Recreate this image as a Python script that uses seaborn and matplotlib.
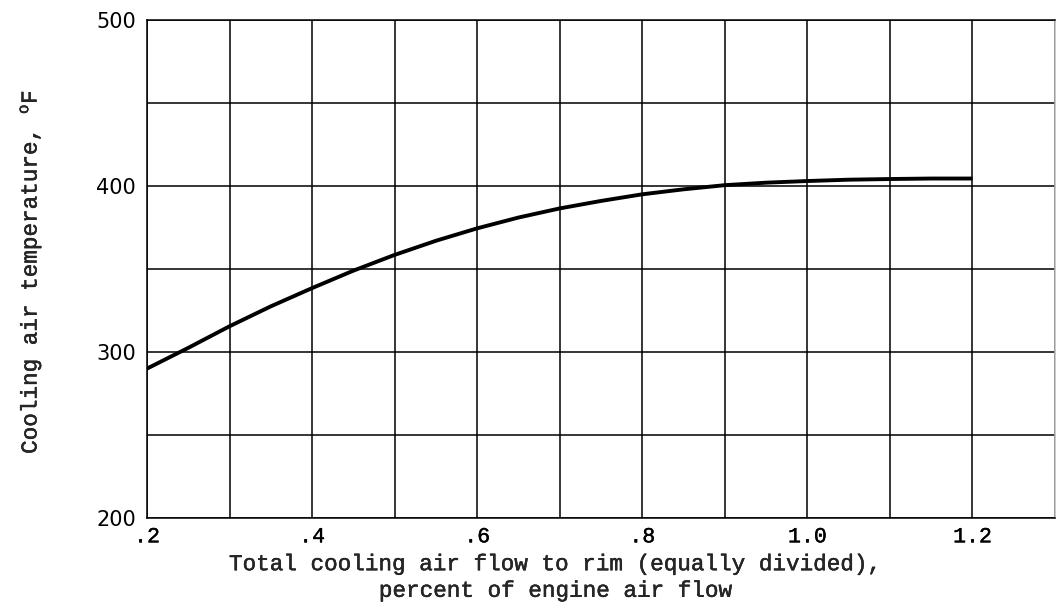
import matplotlib
matplotlib.use("Agg")
import matplotlib.pyplot as plt
import matplotlib.patheffects as pe
import numpy as np
import pandas as pd
import seaborn as sns

# =========================
# Data
# =========================
flow_pct = [0.20, 0.25, 0.30, 0.35, 0.40, 0.45, 0.50, 0.55, 0.60, 0.65, 0.70,
            0.75, 0.80, 0.85, 0.90, 0.95, 1.00, 1.05, 1.10, 1.15, 1.20]
temp_F = [290, 302.5, 315.5, 327.5, 338.5, 349, 358.5, 367, 374.5, 381, 386.5,
          391, 395, 398, 400.5, 402, 403, 403.8, 404.2, 404.5, 404.5]

x_ticks = [0.2, 0.4, 0.6, 0.8, 1.0, 1.2]
x_tick_labels = [".2", ".4", ".6", ".8", "1.0", "1.2"]
y_ticks = [200, 300, 400, 500]

df = pd.DataFrame({"flow": flow_pct, "temp": temp_F})

# =========================
# Style
# =========================
sns.set_style("white")
plt.rcParams["font.family"] = ["Liberation Mono", "DejaVu Sans Mono"]
plt.rcParams["mathtext.fontset"] = "custom"
plt.rcParams["mathtext.rm"] = "Liberation Mono"
plt.rcParams["mathtext.it"] = "Liberation Mono"

# slight thickening, typewriter look
ink = [pe.withStroke(linewidth=0.3, foreground="black")]

fig = plt.figure(figsize=(10.56, 6.10), dpi=100)
ax = fig.add_axes([147 / 1056, 92 / 610, 908 / 1056, 498 / 610])

sns.lineplot(data=df, x="flow", y="temp", color="black", linewidth=2.8,
             solid_joinstyle="round", solid_capstyle="butt", ax=ax)

ax.set_xlim(0.2, 1.3)
ax.set_ylim(200, 500)
ax.set_xticks(np.arange(0.2, 1.31, 0.1), minor=True)
ax.set_yticks(np.arange(200, 501, 50), minor=True)
ax.set_xticks(x_ticks)
ax.set_xticklabels(x_tick_labels)
ax.set_yticks(y_ticks)
ax.grid(which="both", color="black", linewidth=1.1)
ax.tick_params(which="both", length=0, colors="black")
ax.tick_params(axis="x", pad=6, labelsize=15.5)
ax.tick_params(axis="y", pad=8)

for lab in ax.get_xticklabels():
    lab.set_path_effects(ink)
for lab in ax.get_yticklabels():
    lab.set_family("DejaVu Sans")
    lab.set_fontsize(15)

for s in ax.spines.values():
    s.set_color("black")
    s.set_linewidth(1.1)
ax.spines["right"].set_color("#bbbbbb")

ax.set_xlabel("")
ax.set_ylabel("")

fig.text(30 / 1056, 1 - 272 / 610, "Cooling air temperature, $^{\\mathrm{o}}$F",
         rotation=90, ha="center", va="center", fontsize=16.3, path_effects=ink)

fig.text(556 / 1056, 1 - 577 / 610,
         "Total cooling air flow to rim (equally divided),\npercent of engine air flow",
         ha="center", va="center", fontsize=16.3, linespacing=1.2, path_effects=ink)

fig.savefig("out.png", dpi=100)
